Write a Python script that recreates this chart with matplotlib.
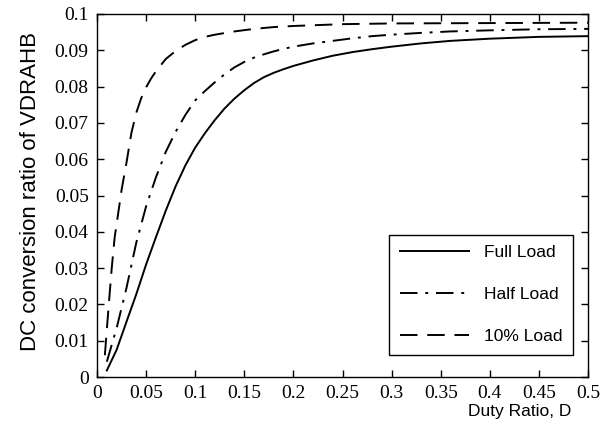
import matplotlib
matplotlib.use("Agg")
import matplotlib.pyplot as plt

# Duty ratio samples and conversion ratio
x_full = [0.01, 0.02, 0.03, 0.04, 0.05, 0.06, 0.07, 0.08, 0.09, 0.1, 0.11, 0.12, 0.13,
          0.14, 0.15, 0.16, 0.17, 0.18, 0.19, 0.2, 0.22, 0.24, 0.26, 0.28, 0.3, 0.33,
          0.36, 0.4, 0.45, 0.5]
y_full = [0.0018, 0.0075, 0.0152, 0.0228, 0.031, 0.0385, 0.0458, 0.0525, 0.0583, 0.0632,
          0.0672, 0.0708, 0.074, 0.0767, 0.079, 0.081, 0.0826, 0.0838, 0.0848, 0.0857,
          0.0872, 0.0885, 0.0895, 0.0903, 0.091, 0.0919, 0.0926, 0.0932, 0.0937, 0.0939]

x_half = [0.01, 0.02, 0.03, 0.04, 0.05, 0.06, 0.07, 0.08, 0.09, 0.1, 0.11, 0.12, 0.13,
          0.14, 0.15, 0.16, 0.17, 0.18, 0.19, 0.2, 0.22, 0.24, 0.26, 0.28, 0.3, 0.33,
          0.36, 0.4, 0.45, 0.5]
y_half = [0.0042, 0.0135, 0.0245, 0.037, 0.047, 0.055, 0.062, 0.0675, 0.0722, 0.0762,
          0.0788, 0.0812, 0.0834, 0.0853, 0.0868, 0.088, 0.0889, 0.0897, 0.0904, 0.091,
          0.0919, 0.0926, 0.0933, 0.0939, 0.0943, 0.0948, 0.0952, 0.0955, 0.0958, 0.0959]

x_ten = [0.008, 0.01, 0.012, 0.015, 0.018, 0.021, 0.025, 0.03, 0.035, 0.04, 0.045, 0.05,
         0.055, 0.06, 0.07, 0.08, 0.09, 0.1, 0.11, 0.12, 0.14, 0.16, 0.18, 0.2, 0.25,
         0.3, 0.4, 0.5]
y_ten = [0.006, 0.013, 0.02, 0.03, 0.0385, 0.044, 0.0515, 0.059, 0.0672, 0.0728, 0.0768,
         0.0798, 0.0822, 0.0842, 0.0876, 0.0898, 0.0915, 0.0928, 0.0937, 0.0943, 0.0952,
         0.0959, 0.0964, 0.0967, 0.0972, 0.0974, 0.0975, 0.0976]

labels = ["Full Load", "Half Load", "10% Load"]

xticks = [0, 0.05, 0.1, 0.15, 0.2, 0.25, 0.3, 0.35, 0.4, 0.45, 0.5]
xtick_labels = ["0", "0.05", "0.1", "0.15", "0.2", "0.25", "0.3", "0.35", "0.4", "0.45", "0.5"]
yticks = [0, 0.01, 0.02, 0.03, 0.04, 0.05, 0.06, 0.07, 0.08, 0.09, 0.1]
ytick_labels = ["0", "0.01", "0.02", "0.03", "0.04", "0.05", "0.06", "0.07", "0.08", "0.09", "0.1"]

fig = plt.figure(figsize=(6.1, 4.3), dpi=100)
ax = fig.add_axes([97 / 610, 53 / 430, 491 / 610, 363 / 430])

ax.plot(x_full, y_full, color="black", lw=1.4, ls="-", label=labels[0])
ax.plot(x_half, y_half, color="black", lw=1.4, dashes=(9, 4, 1.5, 4), label=labels[1])
ax.plot(x_ten, y_ten, color="black", lw=1.4, dashes=(9, 5), label=labels[2])

ax.set_xlim(0, 0.5)
ax.set_ylim(0, 0.1)
ax.set_xticks(xticks)
ax.set_xticklabels(xtick_labels, family="Liberation Serif", fontsize=14)
ax.set_yticks(yticks)
ax.set_yticklabels(ytick_labels, family="Liberation Serif", fontsize=14)
ax.tick_params(direction="in", length=5, width=1, top=True, right=True, pad=6)
for s in ax.spines.values():
    s.set_linewidth(1)

ax.set_xlabel("Duty Ratio, D", family="Liberation Sans", fontsize=12.5)
ax.xaxis.set_label_coords(0.861, -0.075)
ax.set_ylabel("DC conversion ratio of VDRAHB", family="Liberation Sans", fontsize=16)
ax.yaxis.set_label_coords(-0.114, 0.51)

leg = ax.legend(loc="lower right", bbox_to_anchor=(0.969, 0.061), borderaxespad=0,
                prop={"family": "Liberation Sans", "size": 12.5},
                handlelength=4.0, handletextpad=0.85, labelspacing=1.55,
                borderpad=0.6, fancybox=False, framealpha=1, edgecolor="black")
leg.get_frame().set_linewidth(1)

fig.savefig("out.png", dpi=100)
